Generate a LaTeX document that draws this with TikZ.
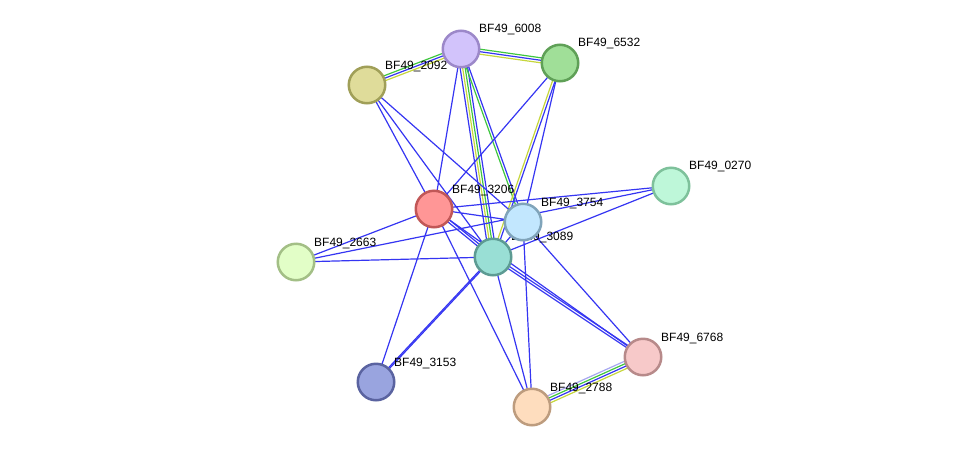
\documentclass[tikz,border=0pt]{standalone}
\usepackage{fontspec}
\setmainfont{Liberation Sans}
\usetikzlibrary{calc,backgrounds}

\definecolor{eblue}{HTML}{3535F2}
\definecolor{egreen}{HTML}{3FC63F}
\definecolor{eyellow}{HTML}{C6D63C}
\definecolor{epurple}{HTML}{A8A8F0}

\tikzset{
    prot/.style={circle, minimum size=36.5pt, inner sep=0pt, line width=2.5pt},
    lbl/.style={anchor=west, inner sep=0pt, yshift=-2pt, font=\fontsize{12}{14}\selectfont},
    edge/.style={line width=1.2pt},
}

% bundle of parallel lines between two nodes: colour/offset pairs
\newcommand{\bundle}[3]{%
    \foreach \col/\off in {#3}
        \draw [edge,\col] ($(#1.center)!\off pt!90:(#2.center)$) -- ($(#2.center)!\off pt!-90:(#1.center)$);
}

\begin{document}
\begin{tikzpicture}[x=1pt,y=-1pt]
    \useasboundingbox (0,0) rectangle (976,453);

    % labels first, proteins cover them
    \node [lbl] (l6008) at (479,28)  {BF49\_6008};
    \node [lbl] (l6532) at (578,41)  {BF49\_6532};
    \node [lbl] (l2092) at (385,64)  {BF49\_2092};
    \node [lbl] (l0270) at (689,164) {BF49\_0270};
    \node [lbl] (l3206) at (452,188) {BF49\_3206};
    \node [lbl] (l3754) at (541,201) {BF49\_3754};
    \node [lbl] (l3089) at (511,235) {BF49\_3089};
    \node [lbl] (l2663) at (314,241) {BF49\_2663};
    \node [lbl] (l3153) at (394,361) {BF49\_3153};
    \node [lbl] (l6768) at (661,336) {BF49\_6768};
    \node [lbl] (l2788) at (550,386) {BF49\_2788};

    \node [prot, fill={rgb,255:red,210;green,195;blue,251}, draw={rgb,255:red,156;green,136;blue,201}] (n6008) at (461,49)  {};
    \node [prot, fill={rgb,255:red,160;green,223;blue,152}, draw={rgb,255:red,95;green,160;blue,87}]   (n6532) at (560,63)  {};
    \node [prot, fill={rgb,255:red,223;green,220;blue,154}, draw={rgb,255:red,160;green,159;blue,88}]  (n2092) at (367,85)  {};
    \node [prot, fill={rgb,255:red,190;green,247;blue,217}, draw={rgb,255:red,126;green,193;blue,155}] (n0270) at (671,186) {};
    \node [prot, fill={rgb,255:red,255;green,150;blue,150}, draw={rgb,255:red,193;green,87;blue,87}]   (n3206) at (434,209) {};
    \node [prot, fill={rgb,255:red,153;green,223;blue,213}, draw={rgb,255:red,93;green,155;blue,147}]  (n3089) at (493,257) {};
    \node [prot, fill={rgb,255:red,194;green,231;blue,254}, draw={rgb,255:red,128;green,164;blue,186}] (n3754) at (523,222) {};
    \node [prot, fill={rgb,255:red,226;green,254;blue,199}, draw={rgb,255:red,163;green,191;blue,134}] (n2663) at (296,262) {};
    \node [prot, fill={rgb,255:red,153;green,164;blue,223}, draw={rgb,255:red,90;green,99;blue,160}]   (n3153) at (376,382) {};
    \node [prot, fill={rgb,255:red,247;green,201;blue,201}, draw={rgb,255:red,183;green,138;blue,138}] (n6768) at (643,357) {};
    \node [prot, fill={rgb,255:red,254;green,221;blue,190}, draw={rgb,255:red,189;green,156;blue,126}] (n2788) at (532,407) {};

    \begin{scope}[on background layer]
        \bundle{n2092}{n6008}{egreen/2.5,eblue/0,eyellow/-2.5}
        \bundle{n6008}{n6532}{egreen/2.5,eblue/0,eyellow/-2.5}
        \bundle{n6008}{n3089}{eblue/3.75,egreen/1.25,eyellow/-1.25,eblue/-3.75}
        \bundle{n6008}{n3754}{eblue/1.25,egreen/-1.25}
        \bundle{n6532}{n3089}{eblue/1.25,eyellow/-1.25}
        \bundle{n3206}{n3089}{eblue/1.25,eblue/-1.25}
        \bundle{n3089}{n3153}{eblue/0.6,eblue/-0.6}
        \bundle{n3089}{n6768}{eblue/1.25,eblue/-1.25}
        \bundle{n2788}{n6768}{epurple/3.75,egreen/1.25,eblue/-1.25,eyellow/-3.75}

        \draw [edge,eblue] (n6008.center) -- (n3206.center)
                           (n6532.center) -- (n3206.center)
                           (n6532.center) -- (n3754.center)
                           (n2092.center) -- (n3206.center)
                           (n2092.center) -- (n3089.center)
                           (n2092.center) -- (n3754.center)
                           (n3206.center) -- (n0270.center)
                           (n3206.center) -- (n3754.center)
                           (n3206.center) -- (n2663.center)
                           (n3206.center) -- (n3153.center)
                           (n3206.center) -- (n2788.center)
                           (n3206.center) -- (n6768.center)
                           (n2663.center) -- (n0270.center)
                           (n2663.center) -- (n3089.center)
                           (n3089.center) -- (n0270.center)
                           (n3754.center) -- (n3089.center)
                           (n3754.center) -- (n6768.center)
                           (n3754.center) -- (n2788.center)
                           (n3089.center) -- (n2788.center);
    \end{scope}
\end{tikzpicture}
\end{document}
